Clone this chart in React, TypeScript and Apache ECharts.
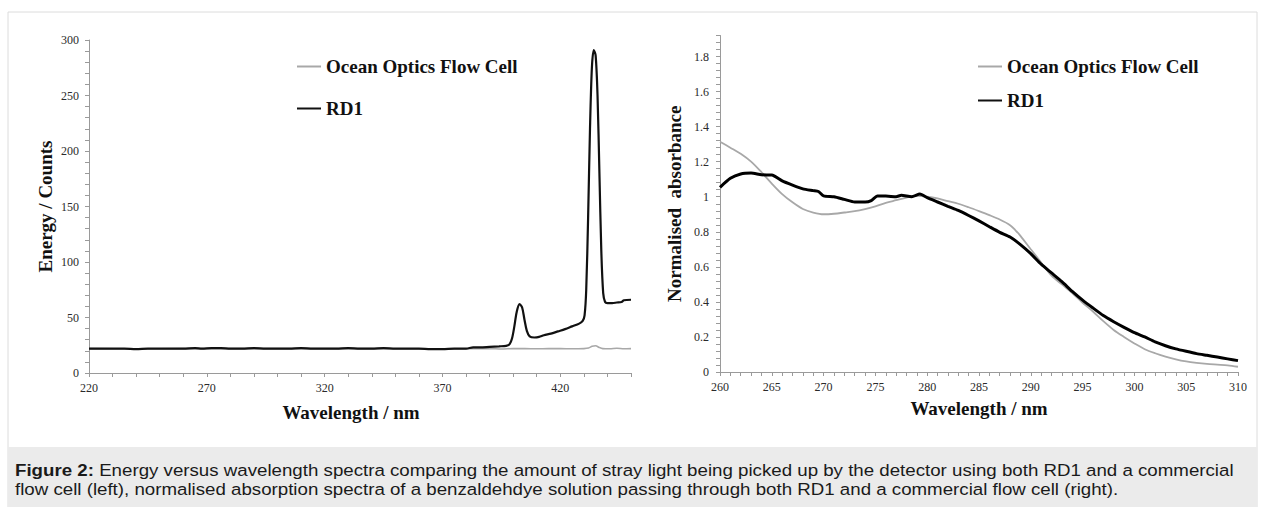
import React, { useEffect, useRef } from "react";
import * as echarts from "echarts";

// ---------- Left panel: energy vs wavelength ----------
const rd1EnergyNm = [
  220, 225, 230, 235, 240, 245, 250, 255, 260, 265, 268, 272, 276, 280, 285, 290, 295, 300, 305, 310,
  315, 320, 325, 330, 335, 340, 345, 350, 355, 360, 365, 370, 375, 380, 383, 386, 390, 394, 397, 398.5,
  399.5, 400.5, 401.5, 402.7, 403.8, 404.8, 405.8, 407, 409, 411, 413, 416, 419, 422, 425, 428, 429.5,
  430.3, 431, 431.8, 432.6, 433.4, 434.2, 435, 435.8, 436.6, 437.4, 438.2, 439, 440, 442, 444, 446, 447, 450,
];
const rd1EnergyCounts = [
  22, 22, 22, 22, 21.5, 22, 22, 22, 22, 22.5, 22, 22.5, 22.5, 22, 22, 22.5, 22, 22, 22, 22.5,
  22, 22, 22, 22.5, 22, 22, 22.5, 22, 22, 22, 21.5, 21.5, 22, 22, 23, 23, 23.5, 24, 24.5, 26,
  31, 42, 55, 62, 59, 48, 38, 33, 32, 32.5, 34, 35.5, 37.5, 39.5, 42, 44.5, 47,
  52, 75, 140, 220, 275, 291, 286, 250, 180, 110, 72, 64, 63, 63, 63.5, 64, 65.5, 66,
];
const oceanEnergyNm = [
  220, 240, 260, 280, 300, 320, 340, 360, 380, 390, 395, 400, 405, 410, 415, 420, 425, 430, 432,
  433.5, 435, 436.5, 438, 441, 444, 447, 450,
];
const oceanEnergyCounts = [
  22, 21.8, 22, 22, 22, 22, 22, 21.8, 21.8, 22, 21.6, 22, 22, 21.8, 22, 22, 21.8, 22, 22.5,
  24, 24.5, 23, 22, 21.8, 22.3, 21.8, 22,
];

// ---------- Right panel: normalised absorbance ----------
const rd1AbsNm = [
  260, 261, 262, 263, 264, 265, 266, 267, 268, 269, 269.5, 270, 271, 272, 273, 274, 274.6, 275.2, 276, 277,
  277.5, 278.5, 279.3, 280, 281, 282, 283, 284, 285, 286, 287, 288, 289, 290, 291, 292, 293, 294, 295, 296,
  297, 298, 299, 300, 301, 302, 303, 304, 305, 306, 307, 308, 309, 310,
];
const rd1Abs = [
  1.054, 1.105, 1.13, 1.135, 1.125, 1.124, 1.09, 1.066, 1.045, 1.035, 1.03, 1.005, 1.0, 0.985, 0.97, 0.97, 0.978, 1.004, 1.004, 1.0,
  1.008, 1.0, 1.015, 0.995, 0.97, 0.945, 0.922, 0.893, 0.862, 0.829, 0.797, 0.77, 0.727, 0.675, 0.615, 0.565, 0.515, 0.46, 0.41, 0.365,
  0.322, 0.287, 0.255, 0.225, 0.2, 0.172, 0.15, 0.132, 0.118, 0.105, 0.095, 0.085, 0.075, 0.065,
];
const oceanAbsNm = [
  260, 261, 262, 263, 264, 265, 266, 267, 268, 269, 270, 271, 272, 273, 274, 275, 276, 277, 278, 279,
  280, 281, 282, 283, 284, 285, 286, 287, 288, 288.5, 289, 290, 291, 292, 293, 294, 295, 296, 297, 298, 299,
  300, 301, 302, 303, 304, 305, 306, 307, 308, 309, 310,
];
const oceanAbs = [
  1.314, 1.28, 1.245, 1.2, 1.14, 1.075, 1.015, 0.968, 0.93, 0.91, 0.9, 0.903, 0.91, 0.918, 0.93, 0.945, 0.965, 0.98, 0.995, 1.005,
  1.0, 0.99, 0.975, 0.96, 0.94, 0.918, 0.895, 0.87, 0.838, 0.81, 0.777, 0.7, 0.625, 0.55, 0.5, 0.45, 0.395, 0.345, 0.29, 0.24, 0.2,
  0.163, 0.13, 0.107, 0.088, 0.072, 0.06, 0.052, 0.046, 0.042, 0.038, 0.03,
];

const seriesNames = ["Ocean Optics Flow Cell", "RD1"];
const leftAxisNames = { x: "Wavelength / nm", y: "Energy / Counts" };
const rightAxisNames = { x: "Wavelength / nm", y: "Normalised  absorbance" };
const captionBold = "Figure 2:";
const captionLine1 =
  " Energy versus wavelength spectra comparing the amount of stray light being picked up by the detector using both RD1 and a commercial";
const captionLine2 =
  "flow cell (left), normalised absorption spectra of a benzaldehdye solution passing through both RD1 and a commercial flow cell (right).";

const zip = (xs: number[], ys: number[]) => xs.map((x, i) => [x, ys[i]]);

const SERIF = "Liberation Serif";
const SANS = "Liberation Sans";
const AXIS_GRAY = "#9a9a9a";

const isMultiple = (v: number, step: number, base = 0) => {
  const r = (v - base) / step;
  return Math.abs(r - Math.round(r)) < 1e-6;
};

const axisCommon = {
  axisLine: { show: true, lineStyle: { color: AXIS_GRAY, width: 1 } },
  axisTick: { show: true, inside: false, length: 4, lineStyle: { color: AXIS_GRAY, width: 1 } },
  splitLine: { show: false },
  minorTick: { show: false },
};

const labelStyle = {
  fontFamily: SERIF,
  fontSize: 12,
  color: "#2a2a2a",
  interval: 0,
};

const nameStyle = {
  fontFamily: SERIF,
  fontSize: 19,
  fontWeight: "bold" as const,
  color: "#111",
};

const legendText = { fontFamily: SERIF, fontSize: 19, fontWeight: "bold", color: "#111" };

export default function App() {
  const ref = useRef<HTMLDivElement>(null);

  useEffect(() => {
    if (!ref.current) return;
    const chart = echarts.init(ref.current, undefined, { renderer: "svg" });

    const option: any = {
      animation: false,
      backgroundColor: "#ffffff",
      graphic: [
        {
          type: "rect",
          silent: true,
          shape: { x: 8, y: 12, width: 1249, height: 500 },
          style: { fill: "none", stroke: "#dcdcdc", lineWidth: 1 },
          z: -10,
        },
        {
          type: "rect",
          silent: true,
          shape: { x: 8, y: 447, width: 1249, height: 60 },
          style: { fill: "#ebebeb" },
          z: -9,
        },
        {
          type: "text",
          silent: true,
          x: 15,
          y: 470,
          scaleX: 1.1,
          style: {
            text: "{b|" + captionBold + "}" + captionLine1,
            fontFamily: SANS,
            fontSize: 17,
            fill: "#1a1a1a",
            verticalAlign: "middle",
            rich: { b: { fontFamily: SANS, fontSize: 17, fontWeight: "bold", fill: "#1a1a1a" } },
          },
        },
        {
          type: "text",
          silent: true,
          x: 15,
          y: 489,
          scaleX: 1.1,
          style: {
            text: captionLine2,
            fontFamily: SANS,
            fontSize: 17,
            fill: "#1a1a1a",
            verticalAlign: "middle",
          },
        },
      ],
      legend: [
        {
          orient: "vertical",
          left: 296,
          top: 57,
          padding: 0,
          itemWidth: 24,
          itemHeight: 14,
          itemGap: 23,
          selectedMode: false,
          data: seriesNames,
          itemStyle: { opacity: 0 },
          textStyle: legendText,
        },
        {
          orient: "vertical",
          left: 977,
          top: 57,
          padding: 0,
          itemWidth: 24,
          itemHeight: 14,
          itemGap: 15,
          selectedMode: false,
          data: seriesNames,
          itemStyle: { opacity: 0 },
          textStyle: legendText,
        },
      ],
      grid: [
        { left: 89, top: 40, width: 542, height: 333, containLabel: false },
        { left: 720, top: 35.5, width: 518, height: 336.5, containLabel: false },
      ],
      xAxis: [
        {
          type: "value",
          gridIndex: 0,
          min: 220,
          max: 450,
          interval: 10,
          ...axisCommon,
          axisLabel: {
            ...labelStyle,
            margin: 9,
            formatter: (v: number) => (isMultiple(v, 50, 220) && v < 450 ? String(v) : ""),
          },
          name: leftAxisNames.x,
          nameLocation: "middle",
          nameGap: 30,
          nameTextStyle: { ...nameStyle, padding: [0, 18, 0, 0] },
        },
        {
          type: "value",
          gridIndex: 1,
          min: 260,
          max: 310,
          interval: 1,
          ...axisCommon,
          axisLabel: {
            ...labelStyle,
            margin: 9,
            formatter: (v: number) => (isMultiple(v, 5) ? String(v) : ""),
          },
          name: rightAxisNames.x,
          nameLocation: "middle",
          nameGap: 27,
          nameTextStyle: nameStyle,
        },
      ],
      yAxis: [
        {
          type: "value",
          gridIndex: 0,
          min: 0,
          max: 300,
          interval: 10,
          ...axisCommon,
          axisLabel: {
            ...labelStyle,
            margin: 10,
            formatter: (v: number) => (isMultiple(v, 50) ? String(v) : ""),
          },
          name: leftAxisNames.y,
          nameLocation: "middle",
          nameGap: 34,
          nameTextStyle: nameStyle,
        },
        {
          type: "value",
          gridIndex: 1,
          min: 0,
          max: 1.92,
          interval: 0.04,
          ...axisCommon,
          axisLabel: {
            ...labelStyle,
            margin: 11,
            formatter: (v: number) => (isMultiple(v, 0.2) ? String(Math.round(v * 10) / 10) : ""),
          },
          name: rightAxisNames.y,
          nameLocation: "middle",
          nameGap: 36,
          nameTextStyle: nameStyle,
        },
      ],
      series: [
        {
          name: seriesNames[0],
          type: "line",
          xAxisIndex: 0,
          yAxisIndex: 0,
          data: zip(oceanEnergyNm, oceanEnergyCounts),
          symbol: "none",
          smooth: 0.3,
          lineStyle: { color: "#a8a8a8", width: 1.6 },
          itemStyle: { color: "#a8a8a8", opacity: 0 },
          z: 2,
        },
        {
          name: seriesNames[1],
          type: "line",
          xAxisIndex: 0,
          yAxisIndex: 0,
          data: zip(rd1EnergyNm, rd1EnergyCounts),
          symbol: "none",
          smooth: 0.3,
          lineStyle: { color: "#111111", width: 2.2 },
          itemStyle: { color: "#111111", opacity: 0 },
          z: 3,
        },
        {
          name: seriesNames[0],
          type: "line",
          xAxisIndex: 1,
          yAxisIndex: 1,
          data: zip(oceanAbsNm, oceanAbs),
          symbol: "none",
          smooth: 0.3,
          lineStyle: { color: "#a8a8a8", width: 1.8 },
          itemStyle: { color: "#a8a8a8", opacity: 0 },
          z: 2,
        },
        {
          name: seriesNames[1],
          type: "line",
          xAxisIndex: 1,
          yAxisIndex: 1,
          data: zip(rd1AbsNm, rd1Abs),
          symbol: "none",
          smooth: 0.2,
          lineStyle: { color: "#000000", width: 3 },
          itemStyle: { color: "#000000", opacity: 0 },
          z: 3,
        },
      ],
    };

    chart.setOption(option);
    return () => chart.dispose();
  }, []);

  return (
    <div
      ref={ref}
      style={{ position: "absolute", left: 0, top: 0, width: 1265, height: 507, background: "#fff" }}
    />
  );
}
